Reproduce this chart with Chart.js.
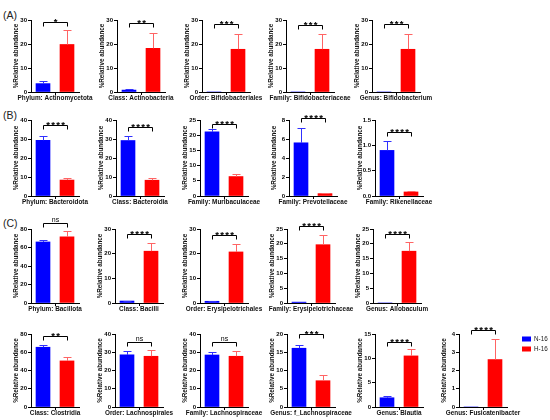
<!DOCTYPE html>
<html>
<head>
<meta charset="utf-8">
<script src="https://cdn.jsdelivr.net/npm/chart.js@4.4.1/dist/chart.umd.min.js"></script>
<style>
  body { margin: 0; width: 550px; height: 420px; overflow: hidden; background: #fff; position: relative; }
  canvas { position: absolute; }
  .tag { position: absolute; font: 10.5px "Liberation Sans", Arial, sans-serif; line-height: 1; color: #222; }
</style>
</head>
<body>
<div class="tag" style="left:3px;top:10px">(A)</div>
<div class="tag" style="left:3px;top:110px">(B)</div>
<div class="tag" style="left:3px;top:218px">(C)</div>
<script>
// data
const groups = ['N-16', 'H-16'];
const panelTitles = [
  'Phylum: Actinomycetota', 'Class: Actinobacteria', 'Order: Bifidobacteriales', 'Family: Bifidobacteriaceae', 'Genus: Bifidobacterium',
  'Phylum: Bacteroidota', 'Class: Bacteroidia', 'Family: Muribaculaceae', 'Family: Prevotellaceae', 'Family: Rikenellaceae',
  'Phylum: Bacillota', 'Class: Bacilli', 'Order: Erysipelotrichales', 'Family: Erysipelotrichaceae', 'Genus: Allobaculum',
  'Class: Clostridia', 'Order: Lachnospirales', 'Family: Lachnospiraceae', 'Genus: f_Lachnospiraceae', 'Genus: Blautia', 'Genus: Fusicatenibacter'
];
const nMean = [3.5, 0.8, 0, 0, 0,   29.3, 29.2, 21.1, 5.6, 0.9,   66, 0.8, 0.7, 0.3, 0,   65.5, 28.6, 28.5, 16.1, 1.9, 0];
const nErr  = [0.9, 0.5, 0, 0, 0,   2.5, 2.6, 1.0, 1.6, 0.19,     2.5, 0.2, 0.2, 0.05, 0, 2.3, 1.9, 1.9, 1.0, 0.35, 0];
const hMean = [19.8, 18.2, 17.8, 17.8, 17.8,  8.4, 8.3, 6.4, 0.25, 0.08,  71.5, 21.0, 20.7, 19.7, 17.5,  50.5, 27.8, 27.8, 7.2, 10.5, 2.6];
const hErr  = [6.2, 6.3, 6.3, 6.3, 6.3,       1.0, 1.0, 0.9, 0.08, 0.02,  6.0, 3.4, 3.4, 3.2, 3.1,       4.5, 3.2, 3.0, 1.7, 1.4, 1.1];
const yMax  = [30, 30, 30, 30, 30,  40, 40, 25, 8, 1.5,  80, 30, 30, 25, 25,  80, 40, 40, 20, 15, 4];
const yStep = [10, 10, 10, 10, 10,  10, 10, 5, 2, 0.5,   20, 10, 10, 5, 5,    20, 10, 10, 5, 5, 1];
const sigText = ['*', '**', '***', '***', '***',  '****', '****', '****', '****', '****',
                 'ns', '****', '****', '****', '****',  '**', 'ns', 'ns', '***', '****', '****'];
const sigY = [29.2, 28.8, 28.3, 27.9, 28.3,  37.4, 36.5, 23.6, 8.2, 1.27,  86.5, 28.1, 27.7, 25.9, 23.3,  77.3, 35.6, 35.6, 20, 13.3, 4.2];

// layout of the grid of small charts
const rowTop = [20, 120, 229, 334];
const rowBottom = [92, 196, 303, 407];
const colX = [
  [31, 117, 202, 286, 372],
  [31, 116, 200, 289, 375],
  [31, 115, 200, 287, 373],
  [31, 115, 200, 287, 375, 459]
];
const YW = 19, PW = 48, PADX = 28, PADT = 16, XH = 10;
const FAMILY = '"Liberation Sans", Arial, sans-serif';
const BLUE = '#0000FF', RED = '#FF0000', BLUE_ERR = '#3030FF', RED_ERR = '#FF6464';

const extras = {
  id: 'extras',
  afterDatasetsDraw(chart, args, opts) {
    const ctx = chart.ctx, y = chart.scales.y, area = chart.chartArea;
    ctx.save();
    ctx.lineWidth = 1;
    // error bars (upper only)
    chart.data.datasets.forEach((ds, di) => {
      const meta = chart.getDatasetMeta(di);
      ds.data.forEach((v, j) => {
        const e = ds.errors[j];
        if (v == null || !e) return;
        const bar = meta.data[j];
        const top = Math.round(y.getPixelForValue(v + e)) + 0.5;
        const x = Math.round(bar.x) + 0.5;
        ctx.strokeStyle = ds.errColor;
        ctx.beginPath();
        ctx.moveTo(x, bar.y);
        ctx.lineTo(x, top);
        ctx.moveTo(x - 4, top);
        ctx.lineTo(x + 4, top);
        ctx.stroke();
      });
    });
    // significance bracket
    const x1 = Math.round(chart.getDatasetMeta(0).data[0].x) + 0.5;
    const x2 = Math.round(chart.getDatasetMeta(1).data[1].x) + 0.5;
    const by = Math.round(y.getPixelForValue(opts.level)) + 0.5;
    ctx.strokeStyle = '#000';
    ctx.beginPath();
    ctx.moveTo(x1, by + 4);
    ctx.lineTo(x1, by);
    ctx.lineTo(x2, by);
    ctx.lineTo(x2, by + 4);
    ctx.stroke();
    ctx.fillStyle = '#000';
    ctx.textAlign = 'center';
    ctx.textBaseline = 'alphabetic';
    if (opts.text === 'ns') {
      ctx.font = '7px ' + FAMILY;
      ctx.fillText('ns', (x1 + x2) / 2, by - 2);
    } else {
      ctx.font = 'bold 9.5px ' + FAMILY;
      ctx.letterSpacing = '1.3px';
      ctx.fillText(opts.text, (x1 + x2) / 2 + 0.65, by + 2);
      ctx.letterSpacing = '0px';
    }
    // x-axis title
    ctx.font = 'bold 6.4px ' + FAMILY;
    ctx.fillStyle = '#111';
    ctx.textBaseline = 'middle';
    ctx.fillText(opts.title, (area.left + area.right) / 2, area.bottom + 6.5);
    // legend (last chart only)
    if (opts.legend) {
      ctx.textAlign = 'left';
      ctx.font = '6.3px ' + FAMILY;
      chart.data.datasets.forEach((ds, di) => {
        const ly = area.top + 5 + di * 10;
        ctx.fillStyle = ds.backgroundColor;
        ctx.fillRect(area.right + 15, ly - 2.5, 9, 5);
        ctx.fillStyle = '#222';
        ctx.fillText(ds.label, area.right + 27, ly);
      });
    }
    ctx.restore();
  }
};

let k = 0;
colX.forEach((cols, r) => {
  cols.forEach((ax, c) => {
    const i = k++;
    const ty = rowTop[r], by = rowBottom[r];
    const isLast = i === panelTitles.length - 1;
    const padR = isLast ? 50 : PADX;
    const cv = document.createElement('canvas');
    cv.width = PADX + YW + PW + padR;
    cv.height = PADT + (by - ty) + XH;
    cv.style.left = (ax - YW - PADX) + 'px';
    cv.style.top = (ty - PADT) + 'px';
    cv.style.width = cv.width + 'px';
    cv.style.height = cv.height + 'px';
    document.body.appendChild(cv);
    const dec = yStep[i] < 1 ? 1 : 0;

    new Chart(cv, {
      type: 'bar',
      data: {
        labels: groups,
        datasets: [
          { label: groups[0], data: [nMean[i], null], errors: [nErr[i], null], backgroundColor: BLUE, errColor: BLUE_ERR },
          { label: groups[1], data: [null, hMean[i]], errors: [null, hErr[i]], backgroundColor: RED, errColor: RED_ERR }
        ]
      },
      options: {
        responsive: false,
        animation: false,
        devicePixelRatio: 1,
        datasets: { bar: { skipNull: true, barThickness: 14, borderWidth: 0 } },
        layout: { padding: { left: PADX, right: padR, top: PADT, bottom: 0 } },
        plugins: {
          legend: { display: false },
          tooltip: { enabled: false },
          extras: { level: sigY[i], text: sigText[i], title: panelTitles[i], legend: isLast }
        },
        scales: {
          x: {
            offset: true,
            grid: { offset: true, drawOnChartArea: false, tickLength: 3, lineWidth: 1,
                    color: g => g.index === 1 ? '#000' : 'rgba(0,0,0,0)' },
            border: { color: '#000', width: 1 },
            ticks: { display: false },
            afterFit: s => { s.height = XH; }
          },
          y: {
            min: 0,
            max: yMax[i],
            ticks: { stepSize: yStep[i], color: '#000', padding: 1,
                     font: { family: FAMILY, size: 6, weight: 'bold' },
                     callback: v => Number(v).toFixed(dec) },
            grid: { drawOnChartArea: false, tickLength: 3, color: '#000', lineWidth: 1 },
            border: { color: '#000', width: 1 },
            title: { display: true, text: '%Relative abundance', color: '#111', padding: 0,
                     font: { family: FAMILY, size: 6.3, weight: 'bold' } },
            afterFit: s => { s.width = YW; }
          }
        }
      },
      plugins: [extras]
    });
  });
});
</script>
</body>
</html>
